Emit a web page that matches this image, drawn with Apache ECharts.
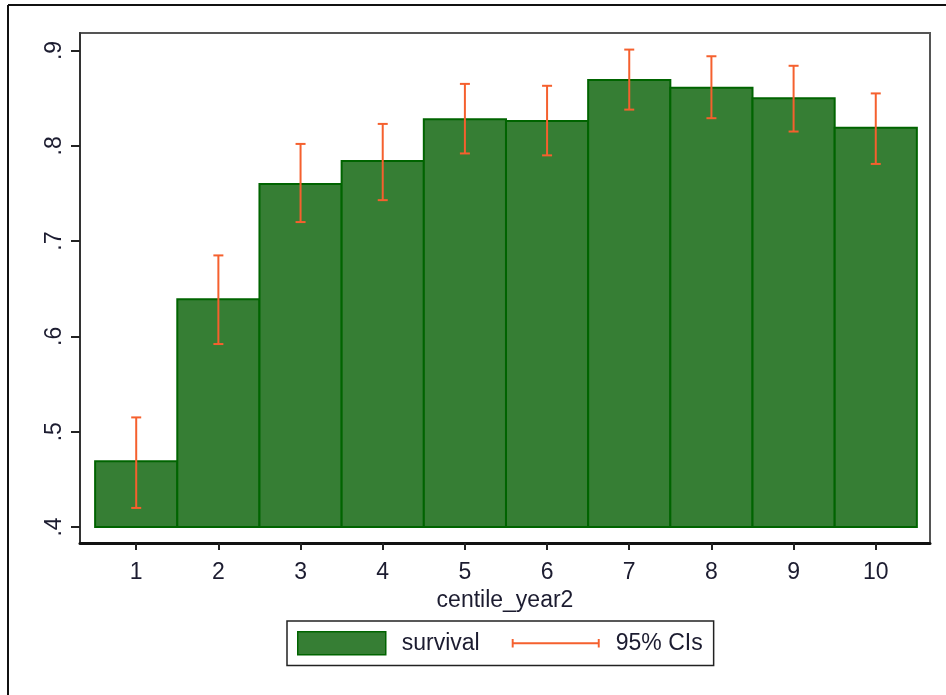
<!DOCTYPE html>
<html>
<head>
<meta charset="utf-8">
<script src="https://cdn.jsdelivr.net/npm/echarts@6/dist/echarts.min.js"></script>
<style>
html,body{margin:0;padding:0;background:#fff;}
#chart{width:946px;height:695px;}
</style>
</head>
<body>
<div id="chart"></div>
<script>
// ---- data ----
const categories = [1, 2, 3, 4, 5, 6, 7, 8, 9, 10];
const survival  = [0.469, 0.639, 0.760, 0.784, 0.828, 0.826, 0.869, 0.861, 0.850, 0.819];
const ciLow     = [0.420, 0.592, 0.720, 0.743, 0.792, 0.790, 0.838, 0.829, 0.815, 0.781];
const ciHigh    = [0.515, 0.685, 0.802, 0.823, 0.865, 0.863, 0.901, 0.894, 0.884, 0.855];
const yTicks    = [0.4, 0.5, 0.6, 0.7, 0.8, 0.9];
const yTickLabels = ['.4', '.5', '.6', '.7', '.8', '.9'];
const barBase = 0.4;
const xTitle = 'centile_year2';

const TEXT = '#1c1c30';
const FILL = '#367e34';
const EDGE = '#006400';
const CI = '#f5602e';
const FONT = '"Liberation Sans", Arial, sans-serif';

const barData = categories.map((c, i) => [c, survival[i]]);
const ciData = categories.map((c, i) => [c, ciLow[i], ciHigh[i]]);

const chart = echarts.init(document.getElementById('chart'), null, {renderer: 'canvas'});

const option = {
  backgroundColor: '#fff',
  animation: false,
  textStyle: {fontFamily: FONT},
  grid: {
    left: 80, right: 16, top: 33, bottom: 152,
    show: true, borderColor: '#555', borderWidth: 2, backgroundColor: 'transparent'
  },
  xAxis: {
    type: 'value',
    min: 0.316, max: 10.66,
    name: xTitle,
    nameLocation: 'middle',
    nameGap: 43,
    nameTextStyle: {fontSize: 23, color: TEXT, fontFamily: FONT},
    splitLine: {show: false},
    axisLine: {show: true, onZero: false, lineStyle: {color: '#111', width: 3}},
    axisTick: {show: true, length: 7, customValues: categories, lineStyle: {color: '#222', width: 2}},
    axisLabel: {customValues: categories, margin: 18, fontSize: 23, color: TEXT, fontFamily: FONT,
      formatter: v => String(Math.round(v))}
  },
  yAxis: {
    type: 'value',
    min: 0.3832, max: 0.9184,
    splitLine: {show: false},
    axisLine: {show: true, onZero: false, lineStyle: {color: '#333', width: 2}},
    axisTick: {show: true, length: 9, customValues: yTicks, lineStyle: {color: '#222', width: 2}},
    axisLabel: {customValues: yTicks, rotate: 90, margin: 14, fontSize: 23, color: TEXT, fontFamily: FONT,
      formatter: v => yTickLabels[yTicks.findIndex(t => Math.abs(t - v) < 1e-6)]}
  },
  legend: {
    show: true,
    left: 287, top: 621,
    orient: 'horizontal',
    padding: [10, 11, 10, 10],
    borderColor: '#222', borderWidth: 1.5,
    itemWidth: 88, itemHeight: 23,
    itemGap: 32,
    selectedMode: false,
    textStyle: {fontSize: 23, color: TEXT, fontFamily: FONT, padding: [0, 0, 0, 11]},
    data: [
      {name: 'survival', icon: 'rect', itemStyle: {color: FILL, borderColor: EDGE, borderWidth: 1.5}},
      {name: '95% CIs', icon: 'path://M0,0 L2,0 L2,9 L0,9 Z M0,3.5 L91,3.5 L91,5.5 L0,5.5 Z M89,0 L91,0 L91,9 L89,9 Z',
        itemStyle: {color: CI, borderWidth: 0}}
    ]
  },
  graphic: [
    {type: 'line', shape: {x1: 8, y1: 5, x2: 946, y2: 5}, style: {stroke: '#111', lineWidth: 2}, silent: true},
    {type: 'line', shape: {x1: 8, y1: 5, x2: 8, y2: 695}, style: {stroke: '#111', lineWidth: 2}, silent: true}
  ],
  series: [
    {
      name: 'survival',
      type: 'custom',
      itemStyle: {color: FILL},
      data: barData,
      encode: {x: 0, y: 1},
      renderItem: function (params, api) {
        const x = api.value(0), v = api.value(1);
        const p0 = api.coord([x - 0.5, barBase]);
        const p1 = api.coord([x + 0.5, v]);
        return {
          type: 'rect',
          shape: {x: p0[0], y: p1[1], width: p1[0] - p0[0], height: p0[1] - p1[1]},
          style: {fill: FILL, stroke: EDGE, lineWidth: 2}
        };
      }
    },
    {
      name: '95% CIs',
      type: 'custom',
      itemStyle: {color: CI},
      data: ciData,
      encode: {x: 0, y: [1, 2]},
      z: 5,
      renderItem: function (params, api) {
        const x = api.value(0);
        const lo = api.coord([x, api.value(1)]);
        const hi = api.coord([x, api.value(2)]);
        const cap = 5;
        const st = {stroke: CI, lineWidth: 2};
        return {
          type: 'group',
          children: [
            {type: 'line', shape: {x1: lo[0], y1: lo[1], x2: hi[0], y2: hi[1]}, style: st},
            {type: 'line', shape: {x1: hi[0] - cap, y1: hi[1], x2: hi[0] + cap, y2: hi[1]}, style: st},
            {type: 'line', shape: {x1: lo[0] - cap, y1: lo[1], x2: lo[0] + cap, y2: lo[1]}, style: st}
          ]
        };
      }
    }
  ]
};
chart.setOption(option);
</script>
</body>
</html>
